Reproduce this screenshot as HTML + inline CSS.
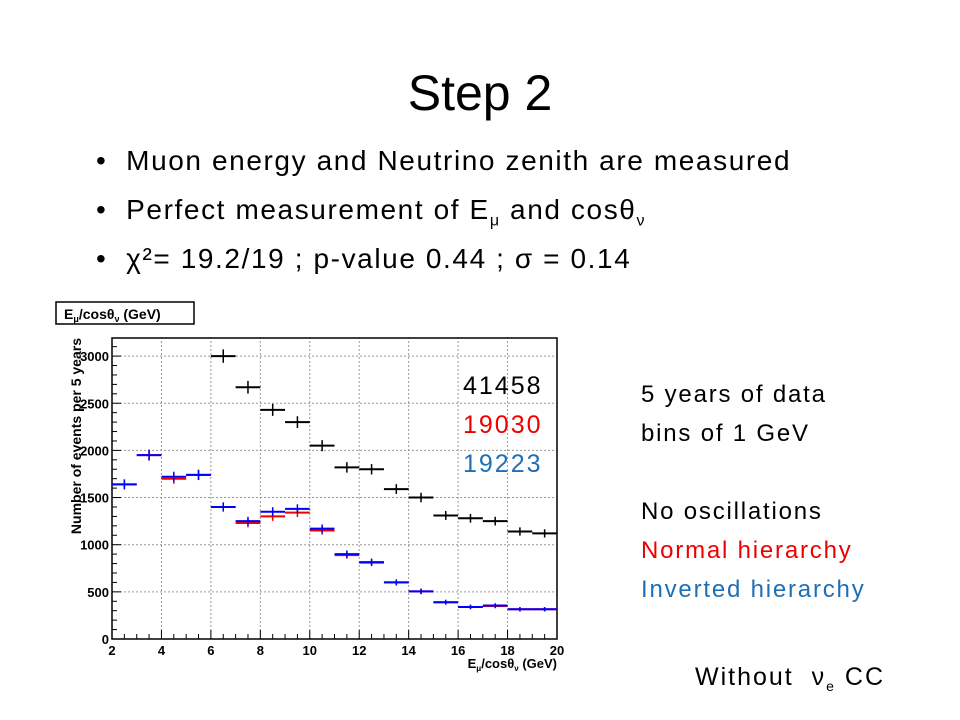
<!DOCTYPE html>
<html><head><meta charset="utf-8"><style>
body{margin:0;width:960px;height:720px;background:#fff;font-family:"Liberation Sans",sans-serif;position:relative;overflow:hidden}
.t{position:absolute;white-space:nowrap}
</style></head><body>
<div class="t" style="left:0;width:960px;text-align:center;top:64px;font-size:50px">Step 2</div>
<div class="t" style="left:96px;top:145px;font-size:28px;letter-spacing:1.6px">•&nbsp;&nbsp;Muon energy and Neutrino zenith are measured</div>
<div class="t" style="left:96px;top:194px;font-size:28px;letter-spacing:1.6px">•&nbsp;&nbsp;Perfect measurement of E<sub style="font-size:16px">μ</sub> and cosθ<sub style="font-size:16px">ν</sub></div>
<div class="t" style="left:96px;top:243px;font-size:28px;letter-spacing:1.6px">•&nbsp;&nbsp;χ²= 19.2/19 ; p-value 0.44 ; σ = 0.14</div>
<div class="t" style="left:641px;top:375px;font-size:24px;line-height:39px;letter-spacing:1.8px">5 years of data<br>bins of 1 GeV<br><br>No oscillations<br><span style="color:#e00">Normal hierarchy</span><br><span style="color:#1f6fb5">Inverted hierarchy</span></div>
<div class="t" style="left:695px;top:663px;font-size:25px;letter-spacing:2px">Without&nbsp; ν<sub style="font-size:14px">e</sub> CC</div>
<svg width="960" height="720" style="position:absolute;left:0;top:0">
<g id="g"></g>
</svg>
<script>
const xCats=[2,3,4,5,6,7,8,9,10,11,12,13,14,15,16,17,18,19];
const noOsc=[null,null,null,null,3000,2670,2430,2300,2050,1820,1800,1590,1500,1310,1280,1250,1140,1120];
const normalH=[1640,1950,1700,1740,1400,1230,1300,1340,1150,890,810,600,505,390,340,350,315,315];
const invertedH=[1640,1950,1720,1740,1400,1250,1350,1380,1170,900,815,600,505,390,340,355,315,315];
const xTicks=[2,4,6,8,10,12,14,16,18,20];
const yTicks=[0,500,1000,1500,2000,2500,3000];
const NS='http://www.w3.org/2000/svg',g=document.getElementById('g');
const X0=112,X1=557,Y0=639,Y1=338;
const sx=v=>X0+(v-2)/18*(X1-X0);
const sy=v=>Y0-v/1000*94.3;
function mk(t,a,txt){const e=document.createElementNS(NS,t);for(const k in a)e.setAttribute(k,a[k]);if(txt!=null)e.textContent=txt;g.appendChild(e);return e;}
let e;
e=mk('rect',{x:56,y:302,width:138,height:22,fill:'#fff',stroke:'#000','stroke-width':1.5});

e=mk('text',{x:64,y:319,'font-size':14,'font-weight':'bold'},'');
e.innerHTML='E<tspan font-size="9" dy="3">μ</tspan><tspan dy="-3">/cosθ</tspan><tspan font-size="9" dy="3">ν</tspan><tspan dy="-3"> (GeV)</tspan>';

xTicks.forEach(v=>{
 e=mk('line',{x1:sx(v),x2:sx(v),y1:Y0,y2:Y1,stroke:'#999','stroke-dasharray':'2,2'});
 
 e=mk('text',{x:sx(v),y:Y0+16,'font-size':13,'font-weight':'bold','text-anchor':'middle'},String(v));
 
});
for(let v=2;v<=20;v+=0.5){mk('line',{x1:sx(v),x2:sx(v),y1:Y0,y2:Y0-(v%2==0?9:5),stroke:'#000'});}
yTicks.forEach(v=>{
 e=mk('line',{x1:X0,x2:X1,y1:sy(v),y2:sy(v),stroke:'#999','stroke-dasharray':'2,2'});
 
 e=mk('text',{x:X0-3,y:sy(v)+5,'font-size':13,'font-weight':'bold','text-anchor':'end'},String(v));
 
});
for(let v=0;v<=3150;v+=100){mk('line',{x1:X0,x2:X0+(v%500==0?9:5),y1:sy(v),y2:sy(v),stroke:'#000'});}
e=mk('rect',{x:X0,y:Y1,width:X1-X0,height:Y0-Y1,fill:'none',stroke:'#000','stroke-width':1.5});

e=mk('text',{x:X1,y:Y0+29,'font-size':13,'font-weight':'bold','text-anchor':'end'},'');
e.innerHTML='E<tspan font-size="8" dy="3">μ</tspan><tspan dy="-3">/cosθ</tspan><tspan font-size="8" dy="3">ν</tspan><tspan dy="-3"> (GeV)</tspan>';

e=mk('text',{x:0,y:0,'font-size':14,'font-weight':'bold','text-anchor':'end',transform:'translate(81,338) rotate(-90)'},'Number of events per 5 years');

function series(arr,col,name){arr.forEach((v,i)=>{if(v==null)return;const x=xCats[i];
 e=mk('line',{x1:sx(x),x2:sx(x+1),y1:sy(v),y2:sy(v),stroke:col,'stroke-width':2});
 
 const err=Math.sqrt(v)*1.3;
 mk('line',{x1:sx(x+0.5),x2:sx(x+0.5),y1:sy(v-err),y2:sy(v+err),stroke:col,'stroke-width':1.5});
});}
series(noOsc,'#000','no-osc');series(normalH,'#e00','normal');series(invertedH,'#00f','inverted');
[['41458','#000',392],['19030','#e00',431],['19223','#1f6fb5',470]].forEach(a=>{
 e=mk('text',{x:463,y:a[2]+2,'font-size':25,fill:a[1],'letter-spacing':2},a[0]);
 
});
</script>
</body></html>
